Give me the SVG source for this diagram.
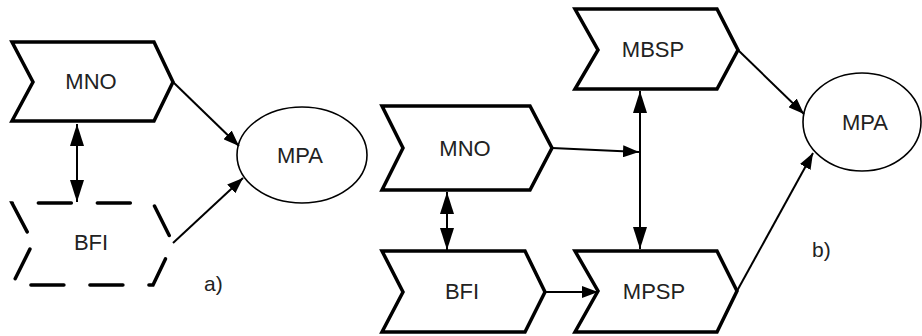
<svg xmlns="http://www.w3.org/2000/svg" width="922" height="336" viewBox="0 0 922 336">
  <style>
    .shape { fill: #ffffff; stroke: #000000; stroke-width: 3.5; stroke-linejoin: miter; }
    .dashed { stroke-dasharray: 33 26; stroke-dashoffset: -12.5; stroke-linecap: round; }
    .oval { fill: #ffffff; stroke: #000000; stroke-width: 1.6; }
    .label { font-family: "Liberation Sans", Arial, sans-serif; font-size: 22px; fill: #222222; text-anchor: middle; }
    .tag { font-family: "Liberation Sans", Arial, sans-serif; font-size: 21px; fill: #222222; }
    .link { fill: none; stroke: #000000; stroke-width: 2; }
    .one { marker-end: url(#headSmall); }
    .both { marker-start: url(#headBig); marker-end: url(#headBig); }
  </style>
  <defs>
    <marker id="headSmall" viewBox="0 0 16 12" refX="16" refY="6" markerWidth="16" markerHeight="12" markerUnits="userSpaceOnUse" orient="auto">
      <path d="M0,0 L16,6 L0,12 Z" fill="#000000"/>
    </marker>
    <marker id="headBig" viewBox="0 0 22 14" refX="22" refY="7" markerWidth="22" markerHeight="14" markerUnits="userSpaceOnUse" orient="auto-start-reverse">
      <path d="M0,0 L22,7 L0,14 Z" fill="#000000"/>
    </marker>
  </defs>

  <!-- part a) -->
  <g id="a-mno">
    <path class="shape" d="M12,42 L154,42 L173,82 L154,121 L12,121 L33,82 Z"/>
    <text class="label" x="91" y="89">MNO</text>
  </g>
  <g id="a-bfi">
    <path class="shape dashed" d="M33,243 L12,203 L153,203 L173,243 L153,285 L12,285 Z"/>
    <text class="label" x="91" y="250">BFI</text>
  </g>
  <g id="a-mpa">
    <ellipse class="oval" cx="302" cy="155" rx="65" ry="48"/>
    <text class="label" x="300" y="163">MPA</text>
  </g>
  <text id="a-caption" class="tag" x="204" y="291">a)</text>

  <!-- part b) -->
  <g id="b-mbsp">
    <path class="shape" d="M575,9 L717,9 L738,50 L717,89 L575,89 L598,50 Z"/>
    <text class="label" x="653" y="57">MBSP</text>
  </g>
  <g id="b-mno">
    <path class="shape" d="M382,106 L530,106 L552,148 L530,190 L382,190 L403,148 Z"/>
    <text class="label" x="465" y="156">MNO</text>
  </g>
  <g id="b-bfi">
    <path class="shape" d="M382,251 L525,251 L545,292 L525,332 L382,332 L403,292 Z"/>
    <text class="label" x="462" y="299">BFI</text>
  </g>
  <g id="b-mpsp">
    <path class="shape" d="M575,251 L717,251 L737,291 L717,332 L575,332 L598,291 Z"/>
    <text class="label" x="654" y="299">MPSP</text>
  </g>
  <g id="b-mpa">
    <ellipse class="oval" cx="862" cy="122" rx="59" ry="49"/>
    <text class="label" x="865" y="130">MPA</text>
  </g>
  <text id="b-caption" class="tag" x="812" y="257">b)</text>

  <!-- connectors -->
  <g id="connectors">
    <line class="link one" x1="173" y1="82" x2="239" y2="146"/>
    <line class="link one" x1="173" y1="243" x2="243" y2="178"/>
    <line class="link both" x1="77" y1="124" x2="77" y2="202"/>

    <line class="link one" x1="738" y1="50" x2="804" y2="114"/>
    <line class="link one" x1="737" y1="291" x2="813" y2="153"/>
    <line class="link one" x1="552" y1="148" x2="639" y2="152"/>
    <line class="link one" x1="545" y1="292" x2="598" y2="292"/>
    <line class="link both" x1="447" y1="192" x2="447" y2="250"/>
    <line class="link both" x1="640" y1="91" x2="640" y2="249"/>
  </g>
</svg>
